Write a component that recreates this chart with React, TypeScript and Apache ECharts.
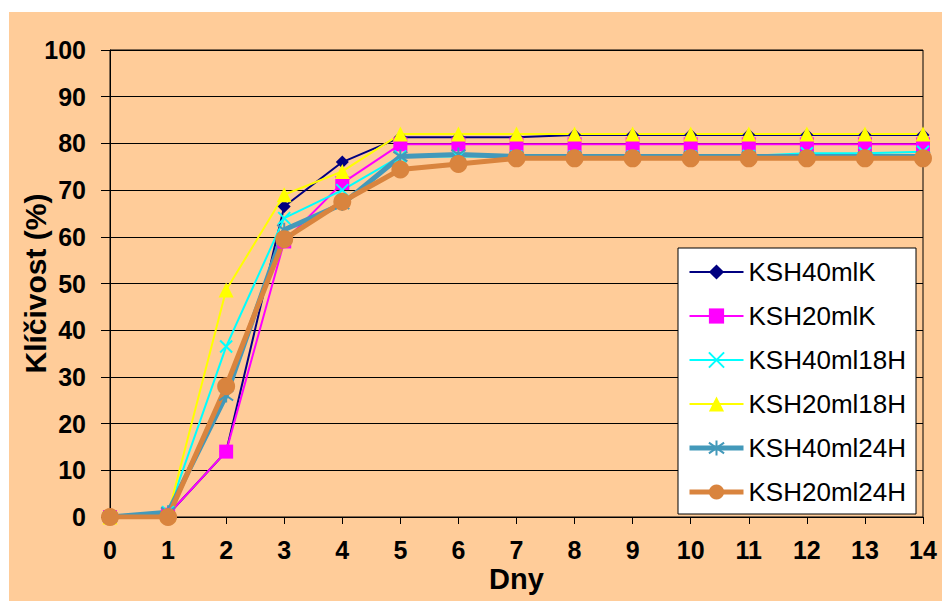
import React, { useEffect, useRef } from "react";
import * as echarts from "echarts";

// Days of the germination test
const days = ["0", "1", "2", "3", "4", "5", "6", "7", "8", "9", "10", "11", "12", "13", "14"];

// Germination (%) per variant
const ksh40mlK = [0, 0.5, 14, 66.5, 76, 81.3, 81.3, 81.3, 81.8, 81.8, 81.8, 81.8, 81.8, 81.8, 81.8];
const ksh20mlK = [0, 0.5, 14, 59, 71.5, 79.8, 79.8, 79.8, 79.8, 79.8, 79.8, 79.8, 79.8, 79.8, 79.8];
const ksh40ml18H = [0, 1, 36.5, 64, 70, 77.2, 77.2, 77.2, 77.2, 77.2, 77.2, 77.3, 77.9, 77.9, 78.2];
const ksh20ml18H = [0, 0.5, 48.6, 69, 74, 82, 82, 82, 82, 82, 82, 82, 82, 82, 82];
const ksh40ml24H = [0, 1, 26, 61.5, 67, 77.2, 77.6, 77.2, 77.2, 77.2, 77.2, 77.2, 77.2, 77.2, 77.2];
const ksh20ml24H = [0, 0, 28, 59.5, 67.5, 74.4, 75.6, 76.8, 76.8, 76.8, 76.8, 76.8, 76.8, 76.8, 76.8];

const yTicks = { min: 0, max: 100, interval: 10 };

const FONT = '"Liberation Sans", Arial, sans-serif';

const CROSS = "path://M0,0L10,10M10,0L0,10";
const STAR = "path://M0,1.5L10,8.5M10,1.5L0,8.5M5,0L5,10";

type Variant = {
  name: string;
  data: number[];
  color: string;
  symbol: string;
  size: number;
  width: number;
  stroked?: boolean;
};

const variants: Variant[] = [
  { name: "KSH40mlK", data: ksh40mlK, color: "#000080", symbol: "diamond", size: 13, width: 2 },
  { name: "KSH20mlK", data: ksh20mlK, color: "#FF00FF", symbol: "rect", size: 14, width: 2 },
  { name: "KSH40ml18H", data: ksh40ml18H, color: "#00FFFF", symbol: CROSS, size: 12, width: 2, stroked: true },
  { name: "KSH20ml18H", data: ksh20ml18H, color: "#FFFF00", symbol: "triangle", size: 15, width: 2 },
  { name: "KSH40ml24H", data: ksh40ml24H, color: "#4399BA", symbol: STAR, size: 14, width: 5, stroked: true },
  { name: "KSH20ml24H", data: ksh20ml24H, color: "#D9843E", symbol: "circle", size: 18, width: 5 },
];

export default function App() {
  const ref = useRef<HTMLDivElement>(null);

  useEffect(() => {
    if (!ref.current) return;
    const chart = echarts.init(ref.current, undefined, { renderer: "svg" });

    const itemStyleOf = (v: Variant) =>
      v.stroked
        ? { color: v.color, borderColor: v.color, borderWidth: 2 }
        : { color: v.color, borderWidth: 0 };

    chart.setOption({
      animation: false,
      backgroundColor: "transparent",
      textStyle: { fontFamily: FONT },
      grid: {
        left: 110,
        top: 50,
        right: 19,
        bottom: 84,
        outerBoundsMode: "none",
        containLabel: false,
        show: true,
        borderColor: "#000",
        borderWidth: 1,
        backgroundColor: "transparent",
      },
      legend: {
        orient: "vertical",
        left: 678,
        top: 248,
        backgroundColor: "#fff",
        borderColor: "#000",
        borderWidth: 1,
        padding: [11, 10, 9, 9],
        itemWidth: 54,
        itemHeight: 19,
        itemGap: 18,
        textStyle: { fontFamily: FONT, fontSize: 26, color: "#000" },
        data: variants.map((v) => ({
          name: v.name,
          lineStyle: { color: v.color, width: v.width },
          itemStyle: itemStyleOf(v),
        })),
      },
      xAxis: {
        type: "category",
        data: days,
        boundaryGap: false,
        name: "Dny",
        nameLocation: "middle",
        nameGap: 47,
        nameMoveOverlap: false,
        nameTextStyle: { fontFamily: FONT, fontSize: 29, fontWeight: "bold", color: "#000" },
        axisLine: { show: true, lineStyle: { color: "#000", width: 1 } },
        axisTick: { show: true, length: 7, lineStyle: { color: "#000" } },
        axisLabel: { fontFamily: FONT, fontSize: 25, fontWeight: "bold", color: "#000", margin: 20 },
        splitLine: { show: false },
      },
      yAxis: {
        type: "value",
        min: yTicks.min,
        max: yTicks.max,
        interval: yTicks.interval,
        name: "Klíčivost (%)",
        nameLocation: "middle",
        nameGap: 60,
        nameMoveOverlap: false,
        nameTextStyle: { fontFamily: FONT, fontSize: 30, fontWeight: "bold", color: "#000" },
        axisLine: { show: true, lineStyle: { color: "#000", width: 1 } },
        axisTick: { show: true, length: 9, lineStyle: { color: "#000" } },
        axisLabel: { fontFamily: FONT, fontSize: 25, fontWeight: "bold", color: "#000", margin: 24 },
        splitLine: { show: true, lineStyle: { color: "#000", width: 1 } },
      },
      series: variants.map((v) => ({
        name: v.name,
        type: "line",
        data: v.data,
        symbol: v.symbol,
        symbolSize: v.size,
        showSymbol: true,
        lineStyle: { color: v.color, width: v.width },
        itemStyle: itemStyleOf(v),
        emphasis: { disabled: true },
      })),
    });

    return () => chart.dispose();
  }, []);

  return (
    <div style={{ position: "fixed", left: 0, top: 0, width: 942, height: 601, background: "#fff" }}>
      <div style={{ position: "absolute", left: 9, top: 12, right: 0, bottom: 0, background: "#FFCC99" }} />
      <div ref={ref} style={{ position: "absolute", left: 0, top: 0, width: 942, height: 601 }} />
    </div>
  );
}
